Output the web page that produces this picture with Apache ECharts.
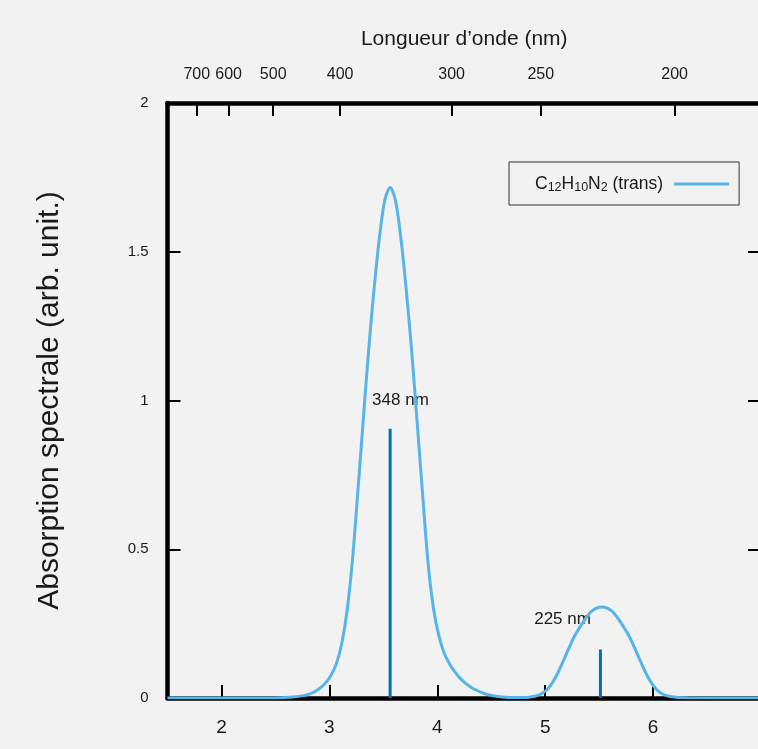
<!DOCTYPE html>
<html>
<head>
<meta charset="utf-8">
<script src="https://cdn.jsdelivr.net/npm/echarts@6/dist/echarts.min.js"></script>
<style>
html,body{margin:0;padding:0;background:#f2f2f2;}
#chart{width:758px;height:749px;}
</style>
</head>
<body>
<div id="chart"></div>
<script>
// Energy axis (eV) and broadened absorption spectrum
const energy = [1.5, 2.4, 2.563, 2.663, 2.763, 2.813, 2.863, 2.913, 2.963, 3.013, 3.063, 3.113, 3.163, 3.213, 3.263, 3.313, 3.363, 3.413, 3.463, 3.513, 3.563,
  3.613, 3.663, 3.713, 3.763, 3.813, 3.863, 3.913, 3.963, 4.013, 4.063, 4.113, 4.163, 4.213, 4.263, 4.313, 4.363, 4.413, 4.463, 4.563, 4.663,
  4.725, 4.825, 4.875, 4.925, 4.975, 5.025, 5.075, 5.125, 5.175, 5.225, 5.275, 5.325, 5.375, 5.425, 5.475, 5.525,
  5.575, 5.625, 5.675, 5.725, 5.775, 5.825, 5.875, 5.925, 5.975, 6.025, 6.075, 6.125, 6.175, 6.225, 6.325, 7.0];
const absorption = [0, 0, 0.001, 0.003, 0.008, 0.013, 0.021, 0.033, 0.05, 0.075, 0.113, 0.18, 0.29, 0.46, 0.69, 0.93, 1.165, 1.37, 1.545, 1.672, 1.716,
  1.672, 1.545, 1.37, 1.165, 0.93, 0.69, 0.46, 0.305, 0.212, 0.152, 0.115, 0.088, 0.066, 0.049, 0.036, 0.026, 0.018, 0.012, 0.005, 0.002,
  0.0015, 0.002, 0.004, 0.008, 0.016, 0.031, 0.056, 0.09, 0.13, 0.172, 0.21, 0.24, 0.268, 0.29, 0.302, 0.306,
  0.302, 0.29, 0.268, 0.24, 0.21, 0.172, 0.13, 0.09, 0.056, 0.031, 0.016, 0.008, 0.004, 0.002, 0.0005, 0];

// Transitions (sticks)
const stickEnergy = [3.563, 5.512];
const stickHeight = [0.905, 0.163];
const stickLabels = ['348 nm', '225 nm'];
const labelEnergy = [3.396, 4.898];
const labelValue = [1.0, 0.266];

// Tick values
const energyTicks = [2, 3, 4, 5, 6];
const wavelengthTicks = [700, 600, 500, 400, 300, 250, 200];
const HC = 1239.84; // eV·nm

const curveData = energy.map((e, i) => [e, absorption[i]]);
const stickData = stickEnergy.map((e, i) => [e, stickHeight[i]]);
const labelData = labelEnergy.map((e, i) => [e, labelValue[i]]);

const FONT = 'Liberation Sans, Arial, Helvetica, sans-serif';
const TXT = '#1a1a1a';
const axisLine = {show: true, onZero: false, lineStyle: {color: '#000', width: 4.5}};
const tick = {show: true, inside: true, length: 13, lineStyle: {color: '#000', width: 2}};

const chart = echarts.init(document.getElementById('chart'));
chart.setOption({
  backgroundColor: '#f2f2f2',
  animation: false,
  textStyle: {fontFamily: FONT},
  grid: {left: 167.5, width: 593.5, top: 103, height: 595, containLabel: false, outerBoundsMode: 'none'},
  legend: {
    show: true,
    left: 509,
    top: 162,
    orient: 'horizontal',
    align: 'right',
    icon: 'rect',
    itemWidth: 55,
    itemHeight: 3,
    itemGap: 0,
    padding: [11, 10, 11, 26],
    borderColor: '#333',
    borderWidth: 1,
    borderRadius: 0,
    backgroundColor: '#f2f2f2',
    formatter: () => 'C{s|12}H{s|10}N{s|2} (trans)',
    textStyle: {
      fontFamily: FONT, fontSize: 17.5, color: TXT, lineHeight: 20, padding: [0, 6, 0, 0],
      rich: {s: {fontFamily: FONT, fontSize: 12.5, color: TXT, lineHeight: 20, verticalAlign: 'bottom', padding: [8, 0, 0, 0]}}
    },
    data: [{name: 'C12H10N2 (trans)'}]
  },
  xAxis: [
    {
      type: 'value', position: 'bottom', min: 1.5, max: 7,
      axisLine: axisLine,
      axisTick: Object.assign({}, tick, {customValues: energyTicks}),
      axisLabel: {show: true, customValues: energyTicks, fontSize: 19, color: TXT, margin: 20, fontFamily: FONT},
      splitLine: {show: false}
    },
    {
      type: 'value', position: 'top', min: 1.5, max: 7,
      name: 'Longueur d’onde (nm)', nameLocation: 'middle', nameGap: 53,
      nameTextStyle: {fontSize: 21, color: TXT, fontFamily: FONT},
      axisLine: axisLine,
      axisTick: Object.assign({}, tick, {customValues: wavelengthTicks.map(w => HC / w)}),
      axisLabel: {show: true, customValues: wavelengthTicks.map(w => HC / w), fontSize: 16, color: TXT, margin: 20, fontFamily: FONT,
        formatter: v => String(Math.round(HC / v))},
      splitLine: {show: false}
    }
  ],
  yAxis: [
    {
      type: 'value', position: 'left', min: 0, max: 2, interval: 0.5,
      name: 'Absorption spectrale (arb. unit.)', nameLocation: 'middle', nameGap: 103,
      nameTextStyle: {fontSize: 30, color: TXT, fontFamily: FONT},
      axisLine: axisLine, axisTick: tick,
      axisLabel: {show: true, fontSize: 15, color: TXT, margin: 19, fontFamily: FONT},
      splitLine: {show: false}
    },
    {
      type: 'value', position: 'right', min: 0, max: 2, interval: 0.5,
      axisLine: axisLine, axisTick: tick,
      axisLabel: {show: false},
      splitLine: {show: false}
    }
  ],
  series: [
    {
      name: 'sticks', type: 'custom', xAxisIndex: 0, yAxisIndex: 0, z: 2,
      data: stickData,
      renderItem: (params, api) => {
        const p0 = api.coord([api.value(0), 0]);
        const p1 = api.coord([api.value(0), api.value(1)]);
        return {type: 'line', shape: {x1: p0[0], y1: p0[1], x2: p1[0], y2: p1[1]},
          style: {stroke: '#0072B2', lineWidth: 3}};
      },
      silent: true
    },
    {
      name: 'labels', type: 'custom', xAxisIndex: 0, yAxisIndex: 0, z: 2,
      data: labelData,
      renderItem: (params, api) => {
        const p = api.coord([api.value(0), api.value(1)]);
        return {type: 'text', x: p[0], y: p[1],
          style: {text: stickLabels[params.dataIndex], fontSize: 17, fontFamily: FONT, fill: TXT, align: 'left', verticalAlign: 'middle'}};
      },
      silent: true
    },
    {
      name: 'C12H10N2 (trans)', type: 'line', xAxisIndex: 0, yAxisIndex: 0, z: 3,
      data: curveData, smooth: 0.3, showSymbol: false, symbol: 'none',
      lineStyle: {color: '#56B4E9', width: 3},
      itemStyle: {color: '#56B4E9'}
    }
  ]
});
</script>
</body>
</html>
